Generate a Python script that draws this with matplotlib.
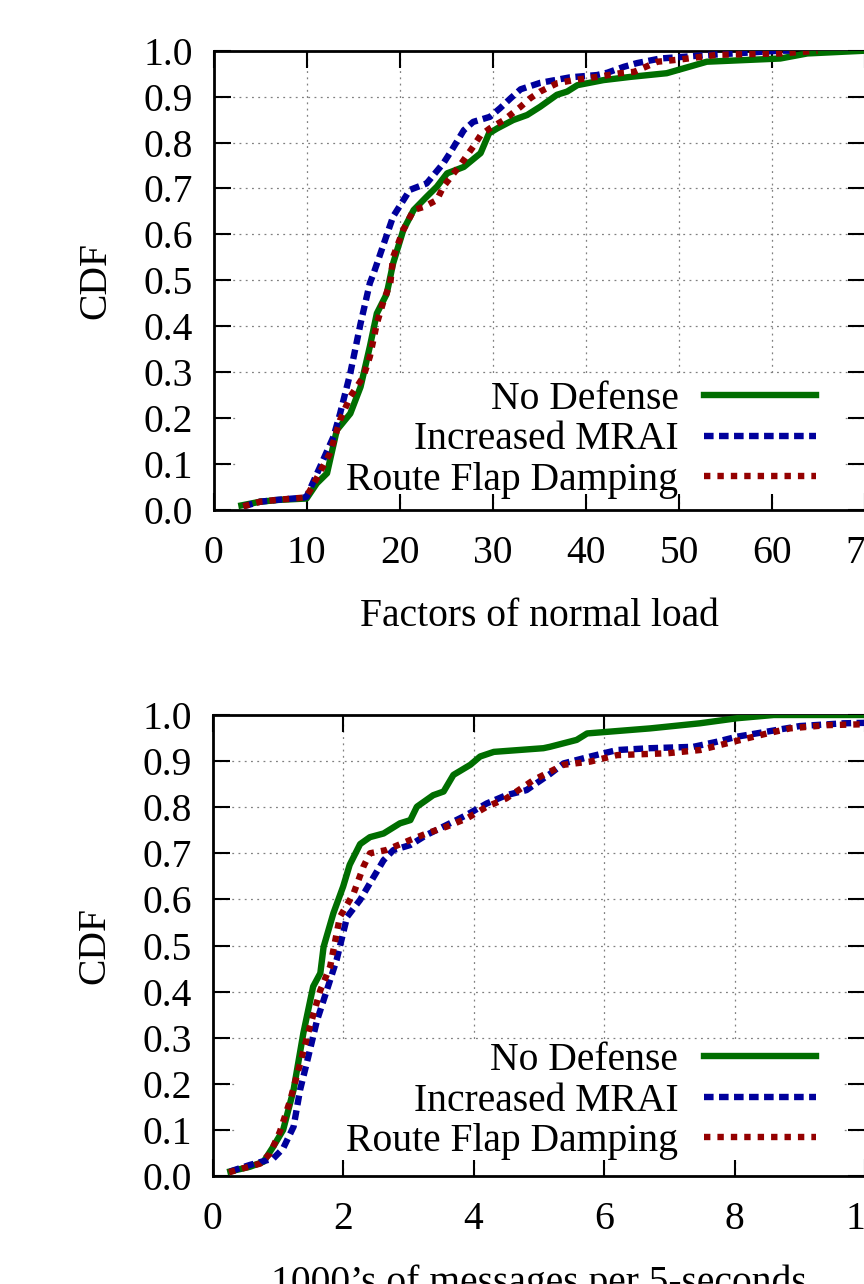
import matplotlib
matplotlib.use("Agg")
import matplotlib.pyplot as plt
from matplotlib.patches import Rectangle
from matplotlib.ticker import FormatStrFormatter, MultipleLocator

plt.rcParams['font.family'] = ['Liberation Serif', 'DejaVu Serif']

labels = ["No Defense", "Increased MRAI", "Route Flap Damping"]
colors = ["#006e00", "#00009c", "#940000"]

# top panel: factors of normal load
load_nodef_x = [3, 5, 7, 10, 11.1, 12.2, 13.25, 14.7, 15.8, 16.8, 17.55, 18.6, 19.3, 20.4, 21.5,
                22.9, 24.0, 25.1, 26.9, 28.7, 29.6, 30.5, 32.2, 33.7, 35.1, 36.9, 38.0, 39.1,
                41.9, 44.8, 48.7, 53.0, 60.9, 63.8, 70]
load_nodef_y = [0.01, 0.018, 0.022, 0.025, 0.058, 0.08, 0.174, 0.21, 0.268, 0.356, 0.428, 0.47,
                0.537, 0.61, 0.653, 0.682, 0.704, 0.733, 0.747, 0.777, 0.82, 0.831, 0.849, 0.86,
                0.878, 0.904, 0.911, 0.925, 0.936, 0.943, 0.951, 0.976, 0.983, 0.994, 1.0]
load_mrai_x = [3.2, 5, 6.8, 9.7, 10, 11.45, 12.9, 13.6, 14.7, 15.8, 16.8, 17.2, 18.3, 19.3, 21.1,
               22.9, 24.7, 25.4, 26.9, 27.9, 29.7, 30.8, 31.9, 33.0, 35.1, 38.3, 41.2, 42.3,
               44.1, 45.5, 48.0, 53.4, 60.9, 62]
load_mrai_y = [0.008, 0.018, 0.022, 0.027, 0.029, 0.094, 0.16, 0.21, 0.298, 0.406, 0.494, 0.515,
               0.58, 0.639, 0.697, 0.711, 0.755, 0.777, 0.827, 0.845, 0.856, 0.875, 0.896, 0.916,
               0.930, 0.942, 0.947, 0.952, 0.965, 0.973, 0.983, 0.991, 1.0, 1.0]
load_rfd_x = [3.2, 5, 6.8, 9.7, 10, 10.7, 12.5, 13.6, 14.7, 16.1, 16.8, 17.55, 18.3, 19.0, 19.3,
              20.4, 21.5, 22.6, 24.0, 24.7, 26.5, 27.9, 28.7, 29.7, 31.2, 33.0, 34.0, 35.1,
              36.9, 38.7, 41.2, 43.7, 45.2, 47.7, 50.2, 54.1, 60.9, 64.9]
load_rfd_y = [0.008, 0.018, 0.022, 0.027, 0.03, 0.054, 0.123, 0.196, 0.247, 0.29, 0.334, 0.406,
              0.457, 0.494, 0.551, 0.61, 0.653, 0.66, 0.675, 0.704, 0.751, 0.791, 0.816, 0.831,
              0.849, 0.878, 0.896, 0.911, 0.929, 0.936, 0.943, 0.951, 0.954, 0.976, 0.981,
              0.991, 0.994, 1.0]

# bottom panel: 1000's of messages per 5 seconds
msg_nodef_x = [0.27, 0.57, 0.78, 0.93, 1.08, 1.24, 1.39, 1.54, 1.65, 1.70, 1.85, 2.0, 2.1, 2.26,
               2.41, 2.62, 2.87, 3.03, 3.13, 3.38, 3.54, 3.69, 3.95, 4.1, 4.31, 5.07, 5.17,
               5.58, 5.74, 6.71, 7.47, 8.04, 8.6, 10]
msg_nodef_y = [0.01, 0.02, 0.031, 0.064, 0.1, 0.187, 0.31, 0.411, 0.44, 0.497, 0.57, 0.628,
               0.675, 0.72, 0.735, 0.743, 0.765, 0.772, 0.801, 0.826, 0.834, 0.87, 0.892, 0.91,
               0.92, 0.928, 0.931, 0.946, 0.96, 0.971, 0.982, 0.993, 1.0, 1.0]
msg_mrai_x = [0.27, 0.57, 0.93, 1.08, 1.24, 1.34, 1.44, 1.6, 1.75, 1.9, 2.06, 2.26, 2.41, 2.62,
              2.77, 3.03, 3.28, 3.58, 3.89, 4.2, 4.5, 4.81, 5.17, 5.38, 5.79, 6.2, 6.71, 7.37,
              7.73, 8.04, 8.5, 9.0, 9.67, 10]
msg_mrai_y = [0.01, 0.024, 0.038, 0.06, 0.107, 0.187, 0.244, 0.338, 0.403, 0.469, 0.562, 0.599,
              0.635, 0.685, 0.707, 0.718, 0.74, 0.761, 0.783, 0.808, 0.826, 0.837, 0.872, 0.895,
              0.91, 0.924, 0.928, 0.931, 0.942, 0.953, 0.964, 0.976, 0.982, 0.983]
msg_rfd_x = [0.25, 0.37, 0.73, 0.88, 1.03, 1.19, 1.34, 1.49, 1.65, 1.8, 1.9, 1.95, 2.16, 2.31,
             2.41, 2.66, 3.03, 3.28, 3.59, 3.9, 4.2, 4.5, 4.92, 5.17, 5.38, 5.79, 6.2, 6.97,
             7.47, 7.98, 8.5, 8.85, 9.42, 10]
msg_rfd_y = [0.008, 0.013, 0.027, 0.049, 0.096, 0.165, 0.244, 0.324, 0.403, 0.454, 0.526, 0.562,
             0.613, 0.671, 0.7, 0.707, 0.729, 0.743, 0.758, 0.776, 0.801, 0.819, 0.859, 0.877,
             0.892, 0.899, 0.913, 0.917, 0.924, 0.942, 0.96, 0.971, 0.978, 0.98]

FS = 28.5
W, H = 864, 1284


def style_axes(ax, xmax, xstep, xlabel, leg_y):
    ax.set_xlim(0, xmax)
    ax.set_ylim(0, 1)
    ax.xaxis.set_major_locator(MultipleLocator(xstep))
    ax.yaxis.set_major_locator(MultipleLocator(0.1))
    ax.yaxis.set_major_formatter(FormatStrFormatter('%.1f'))
    ax.tick_params(direction='in', length=12, width=1.5, top=True, right=True,
                   labelsize=FS, pad=18)
    ax.tick_params(axis='y', pad=15)
    for s in ax.spines.values():
        s.set_linewidth(2)
    ax.set_axisbelow(True)
    ax.grid(True, color='#808080', lw=0.9, ls=(0, (1.5, 3.5)))
    # opaque key box hides the grid in the lower part
    ax.add_patch(Rectangle((0.035, 0.035), 0.93, 0.255, transform=ax.transAxes,
                           facecolor='white', edgecolor='none', zorder=1))
    ax.set_xlabel(xlabel, fontsize=FS, va='center')
    ax.xaxis.set_label_coords(0.5, -0.232)
    ax.set_ylabel('CDF', fontsize=FS, va='center')
    ax.yaxis.set_label_coords(-0.181, 0.5)
    ax.legend(loc='lower right', bbox_to_anchor=(0.925, leg_y), markerfirst=False,
              frameon=False, fontsize=FS, handlelength=2.83, handletextpad=0.65,
              labelspacing=0.09, borderpad=0, borderaxespad=0)


def draw(ax, series):
    styles = [dict(ls='-'), dict(ls=(0, (1.5, 0.85))), dict(ls=(0, (1.0, 1.1)))]
    for (x, y), lab, c, st in zip(series, labels, colors, styles):
        ax.plot(x, y, color=c, lw=4.6, label=lab, zorder=3, solid_joinstyle='round',
                dash_capstyle='butt', **st)


fig = plt.figure(figsize=(W / 100, H / 100), dpi=100)

ax1 = fig.add_axes([213.5 / W, 1 - 510 / H, (865 - 213.5) / W, (510 - 50.7) / H])
draw(ax1, [(load_nodef_x, load_nodef_y), (load_mrai_x, load_mrai_y), (load_rfd_x, load_rfd_y)])
style_axes(ax1, 70, 10, 'Factors of normal load', 0.024)

ax2 = fig.add_axes([212.7 / W, 1 - 1176 / H, (865 - 212.7) / W, (1176 - 715) / H])
draw(ax2, [(msg_nodef_x, msg_nodef_y), (msg_mrai_x, msg_mrai_y), (msg_rfd_x, msg_rfd_y)])
style_axes(ax2, 10, 2, '1000\u2019s of messages per 5-seconds', 0.034)

fig.savefig('out.png', dpi=100)
